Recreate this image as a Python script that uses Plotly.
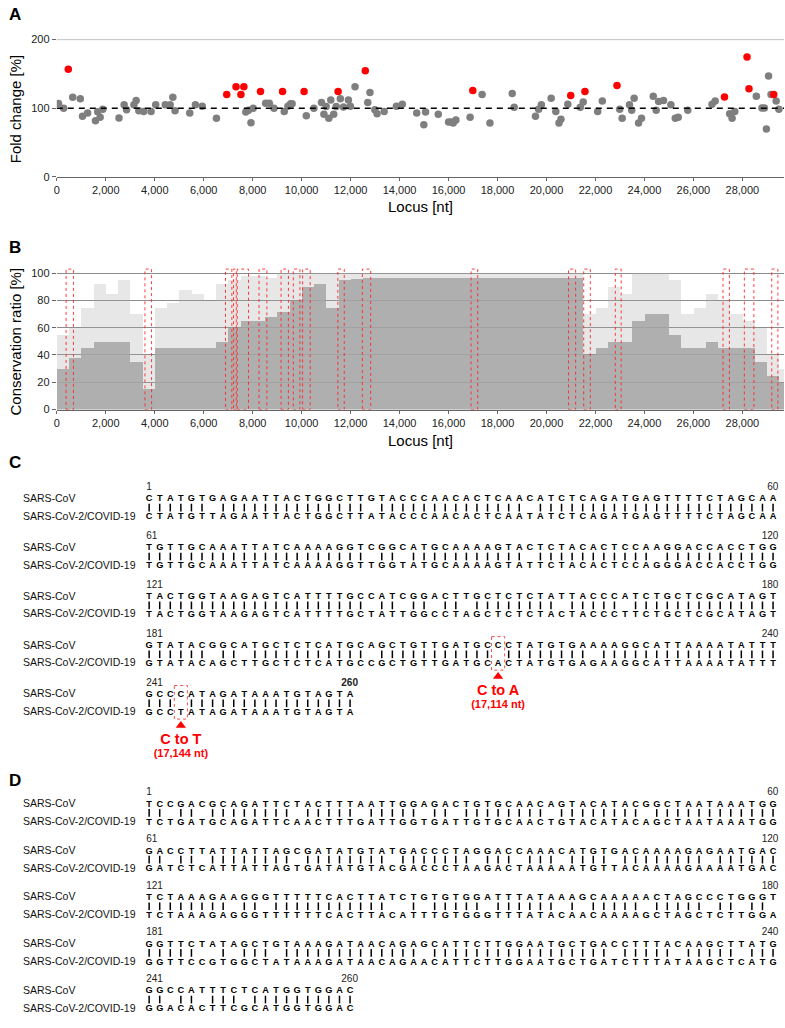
import plotly.graph_objects as go

W, H = 785, 1028
FONT = "Arial, 'Liberation Sans', sans-serif"

# ---------------- Panel A data (locus [nt], fold change [%]) ----------------
gray_locus = [70, 280, 650, 960, 1050, 1260, 1580, 1670, 1770, 1880, 2540, 2750, 2850, 3150, 3240,
              3350, 3550, 3850, 4040, 4430, 4630, 4740, 4830, 5430, 5660, 5940, 6520, 7720, 7830, 7930,
              8020, 8530, 8680, 8870, 9290, 9440, 9550, 9610, 10190, 10500, 10810, 10910, 11000, 11110,
              11190, 11310, 11410, 11580, 11710, 11910, 11990, 12180, 12700, 12790, 12990, 13080, 13370,
              13870, 14110, 14700, 15060, 14990, 15580, 16000, 16100, 16190, 16300, 16880, 17370, 17690,
              18600, 18680, 19550, 19680, 19790, 20190, 20380, 20510, 20590, 20870, 21380, 21500, 22090,
              22280, 22990, 23090, 23390, 23480, 23580, 23760, 23880, 24360, 24480, 24580, 24780, 25080,
              25260, 25380, 25770, 26760, 26890, 27480, 27580, 27690, 28570, 28800, 28900, 28980, 29070,
              29170, 29380, 29490]
gray_fold = [107, 100, 116, 114, 88.5, 93, 82, 95, 87, 98.5, 86, 105, 98, 105, 111.5,
             96.5, 95.5, 95.5, 105, 105, 105, 116, 96.5, 93, 105, 103, 85.5, 94.5, 97, 79,
             100, 107.5, 107.5, 100, 95.5, 103, 106.5, 106.5, 89, 100, 108.5, 91.5, 102.5, 85.5,
             112, 91.5, 102.5, 114, 102, 112, 103, 131.5, 108.5, 123, 98, 92, 95.5,
             103, 106, 93, 94.5, 76, 91.5, 80, 80, 78.5, 83, 87, 120, 78.5,
             121.5, 101.5, 88.5, 98.5, 105, 114.5, 95.5, 78.5, 84, 106, 101.5, 109, 95.5,
             110.5, 98.5, 85.5, 105, 97, 114.5, 78.5, 85.5, 117.5, 97, 110, 111.5, 105,
             85.5, 87, 97, 106, 110.5, 92, 85.5, 95.5, 117.5, 100.5, 100.5, 70, 147,
             120, 110.5, 98.5]
red_locus = [470, 6940, 7320, 7520, 7640, 8320, 9220, 10100, 11490, 12600, 16990, 20990, 21570,
             22880, 27270, 28190, 28270, 29280]
red_fold = [157, 120, 131.5, 120, 131.5, 124.5, 124.5, 124.5, 124.5, 154.5, 126, 118.5, 124.5,
            133, 116.5, 174.5, 128.5, 120]

# ---------------- Panel B data (conservation ratio, per 500-nt window) ----------------
bin_size = 500
cons_peak = [55, 60, 75, 92, 85, 95, 70, 40, 75, 78, 88, 85, 80, 92, 95, 98, 98, 97, 100, 100,
             100, 100, 100, 100, 100, 100, 100, 100, 100, 100, 100, 100, 100, 100, 100, 100, 100,
             100, 100, 100, 100, 100, 100,
             70, 75, 90, 85, 100, 100, 100, 95, 70, 75, 85, 80, 70, 65, 60, 40, 30]
cons_core = [30, 38, 45, 50, 50, 50, 35, 15, 45, 45, 45, 45, 45, 50, 60, 65, 65, 68, 72, 80,
             90, 92, 75, 95, 96, 97, 97, 97, 97, 97, 97, 97, 97, 97, 97, 97, 97,
             97, 97, 97, 97, 97, 97,
             40, 45, 50, 50, 65, 70, 70, 55, 45, 45, 50, 45, 45, 45, 35, 25, 20]
box_start = [380, 3600, 6890, 7220, 7370, 8260, 9160, 9660, 10040, 11480, 12480, 16920, 20900,
             21520, 22810, 27210, 28080, 29200]
box_end = [680, 3870, 7150, 7330, 7830, 8580, 9460, 9930, 10350, 11740, 12820, 17190, 21190,
           21790, 23050, 27470, 28470, 29450]

# ---------------- Panels C / D (alignments) ----------------
seq_names = ["SARS-CoV", "SARS-CoV-2/COVID-19"]
c_sars = ["CTATGTGAGAATTACTGGCTTGTACCCAACACTCAACATCTCAGATGAGTTTTCTAGCAA",
          "TGTTGCAAATTATCAAAAGGTCGGCATGCAAAAGTACTCTACACTCCAAGGACCACCTGG",
          "TACTGGTAAGAGTCATTTTGCCATCGGACTTGCTCTCTATTACCCATCTGCTCGCATAGT",
          "GTATACGGCATGCTCTCATGCAGCTGTTGATGCCCTATGTGAAAAGGCATTAAAATATTT",
          "GCCCATAGATAAATGTAGTA"]
c_cov2 = ["CTATGTTAGAATTACTGGCTTATACCCAACACTCAATATCTCAGATGAGTTTTCTAGCAA",
          "TGTTGCAAATTATCAAAAGGTTGGTATGCAAAAGTATTCTACACTCCAGGGACCACCTGG",
          "TACTGGTAAGAGTCATTTTGCTATTGGCCTAGCTCTCTACTACCCTTCTGCTCGCATAGT",
          "GTATACAGCTTGCTCTCATGCCGCTGTTGATGCACTATGTGAGAAGGCATTAAAATATTT",
          "GCCTATAGATAAATGTAGTA"]
d_sars = ["TCCGACGCAGATTCTACTTTAATTGGAGACTGTGCAACAGTACATACGGCTAATAAATGG",
          "GACCTTATTATTAGCGATATGTATGACCCTAGGACCAAACATGTGACAAAAGAGAATGAC",
          "TCTAAAGAAGGGTTTTTCACTTATCTGTGTGGATTTATAAAGCAAAAACTAGCCCTGGGT",
          "GGTTCTATAGCTGTAAAGATAACAGAGCATTCTTGGAATGCTGACCTTTACAAGCTTATG",
          "GGCCATTTCTCATGGTGGAC"]
d_cov2 = ["TCTGATGCAGATTCAACTTTGATTGGTGATTGTGCAACTGTACATACAGCTAATAAATGG",
          "GATCTCATTATTAGTGATATGTACGACCCTAAGACTAAAAATGTTACAAAAGAAAATGAC",
          "TCTAAAGAGGGTTTTTTCACTTACATTTGTGGGTTTATACAACAAAAGCTAGCTCTTGGA",
          "GGTTCCGTGGCTATAAAGATAACAGAACATTCTTGGAATGCTGATCTTTATAAGCTCATG",
          "GGACACTTCGCATGGTGGAC"]
row_len = 60
total_len = 260
# mutations: (panel, row, column, label, locus label)
mutations = [("C", 3, 34, "C to A", "(17,114 nt)"),
             ("C", 4, 4, "C to T", "(17,144 nt)")]

# ---------------- geometry helpers ----------------
XMAX = 29700
x_dom = [54 / W, 784 / W]


def ydom(top_px, bottom_px):
    return [1 - bottom_px / H, 1 - top_px / H]


def py(px):
    return 1 - px / H


LETTER0 = 146.7
LETTER_STEP = (773 - 146.7) / 59


def px2idx(px):
    return 1 + (px - LETTER0) / LETTER_STEP


fig = go.Figure()

# Panel A
fig.add_trace(go.Scatter(x=gray_locus, y=gray_fold, mode="markers",
                         marker=dict(color="#7f7f7f", size=7.5), xaxis="x", yaxis="y",
                         hoverinfo="x+y"))
fig.add_trace(go.Scatter(x=red_locus, y=red_fold, mode="markers",
                         marker=dict(color="#ff0000", size=7.5), xaxis="x", yaxis="y",
                         hoverinfo="x+y"))

# Panel B
centers = [i * bin_size + bin_size / 2 for i in range(len(cons_peak))]
fig.add_trace(go.Bar(x=centers, y=cons_peak, width=bin_size, xaxis="x2", yaxis="y2",
                     marker=dict(color="rgba(170,170,170,0.28)", line=dict(width=0))))
fig.add_trace(go.Bar(x=centers, y=cons_core, width=bin_size, xaxis="x2", yaxis="y2",
                     marker=dict(color="rgba(165,165,165,0.85)", line=dict(width=0))))

shapes = []
# A: top gridline at 200 and dashed 100 % line
shapes.append(dict(type="line", xref="x domain", yref="y", x0=0, x1=1, y0=200, y1=200,
                   line=dict(color="#8c8c8c", width=1)))
shapes.append(dict(type="line", xref="x domain", yref="y", x0=0, x1=1, y0=100, y1=100,
                   line=dict(color="#000000", width=1.6, dash="6px,5px")))
# B: red dotted boxes
for s, e in zip(box_start, box_end):
    shapes.append(dict(type="rect", xref="x2", yref="y2", x0=s, x1=e, y0=0, y1=103,
                       line=dict(color="rgba(255,40,40,0.9)", width=1, dash="dot")))

# C / D alignments
panels = {"C": dict(top=499, step=49.5, sars=c_sars, cov=c_cov2, bold_end=True),
          "D": dict(top=808, step=47.2, sars=d_sars, cov=d_cov2, bold_end=False)}
GAP = 18
for name, p in panels.items():
    sx, sy, st, cx, cy, ct, mx, my = [], [], [], [], [], [], [], []
    lx, ly, lt = [], [], []
    nlx, nly, nlt = [], [], []
    nrx, nry, nrt = [], [], []
    bold_x, bold_y, bold_t = [], [], []
    for r, (a, b) in enumerate(zip(p["sars"], p["cov"])):
        y0 = p["top"] + r * p["step"]
        for k, (ca, cb) in enumerate(zip(a, b), start=1):
            sx.append(k); sy.append(y0); st.append(ca)
            cx.append(k); cy.append(y0 + GAP); ct.append(cb)
            if ca == cb:
                mx.append(k); my.append(y0 + GAP / 2 - 0.5)
        lx += [px2idx(20), px2idx(20)]
        ly += [y0, y0 + GAP]
        lt += seq_names
        nlx.append(0.72); nly.append(y0 - 12); nlt.append(str(r * row_len + 1))
        end = min((r + 1) * row_len, total_len)
        if end == total_len and p["bold_end"]:
            bold_x.append(len(a) + 0.75); bold_y.append(y0 - 12); bold_t.append("<b>%d</b>" % end)
        else:
            nrx.append(len(a) + 0.5 if len(a) == row_len else len(a) + 0.75)
            nry.append(y0 - 12); nrt.append(str(end))
    letter_font = dict(family=FONT, size=9.2, color="#000")
    fig.add_trace(go.Scatter(x=sx, y=sy, text=["<b>%s</b>" % t for t in st], mode="text",
                             textfont=letter_font, xaxis="x3", yaxis="y3", hoverinfo="skip"))
    fig.add_trace(go.Scatter(x=cx, y=cy, text=["<b>%s</b>" % t for t in ct], mode="text",
                             textfont=letter_font, xaxis="x3", yaxis="y3", hoverinfo="skip"))
    fig.add_trace(go.Scatter(x=mx, y=my, mode="markers", xaxis="x3", yaxis="y3",
                             marker=dict(symbol="line-ns", size=5.5,
                                         line=dict(color="#000", width=1.5)),
                             hoverinfo="skip"))
    fig.add_trace(go.Scatter(x=lx, y=ly, text=lt, mode="text", textposition="middle right",
                             textfont=dict(family=FONT, size=10.5, color="#111"),
                             xaxis="x3", yaxis="y3", hoverinfo="skip"))
    fig.add_trace(go.Scatter(x=nlx, y=nly, text=nlt, mode="text", textposition="middle right",
                             textfont=dict(family=FONT, size=10, color="#222"),
                             xaxis="x3", yaxis="y3", hoverinfo="skip"))
    fig.add_trace(go.Scatter(x=nrx + bold_x, y=nry + bold_y, text=nrt + bold_t, mode="text",
                             textposition="middle left",
                             textfont=dict(family=FONT, size=10, color="#222"),
                             xaxis="x3", yaxis="y3", hoverinfo="skip"))

# mutation highlights
tx, ty, tt, sxx, syy, stt, trx, tr_y = [], [], [], [], [], [], [], []
for pan, r, col, lab, loc in mutations:
    p = panels[pan]
    y0 = p["top"] + r * p["step"]
    shapes.append(dict(type="rect", xref="x3", yref="y3", x0=col - 0.62, x1=col + 0.62,
                       y0=y0 - 9.5, y1=y0 + GAP + 6.5,
                       line=dict(color="rgba(240,60,60,0.9)", width=1, dash="dot")))
    trx.append(col); tr_y.append(y0 + GAP + 13)
    tx.append(col); ty.append(y0 + GAP + 28); tt.append("<b>%s</b>" % lab)
    sxx.append(col); syy.append(y0 + GAP + 42); stt.append("<b>%s</b>" % loc)
fig.add_trace(go.Scatter(x=trx, y=tr_y, mode="markers", xaxis="x3", yaxis="y3",
                         marker=dict(symbol="triangle-up", size=9, color="#ff0000"),
                         hoverinfo="skip"))
fig.add_trace(go.Scatter(x=tx, y=ty, text=tt, mode="text", xaxis="x3", yaxis="y3",
                         textfont=dict(family=FONT, size=14.5, color="#ff0000"), hoverinfo="skip"))
fig.add_trace(go.Scatter(x=sxx, y=syy, text=stt, mode="text", xaxis="x3", yaxis="y3",
                         textfont=dict(family=FONT, size=11, color="#ff0000"), hoverinfo="skip"))

tick_font = dict(family=FONT, size=11, color="#222")
xticks = list(range(0, 29000, 2000))
common_x = dict(range=[0, XMAX], tickvals=xticks, tickformat=",d", showline=True,
                linecolor="#666", linewidth=1, ticks="outside", ticklen=3, tickcolor="#666",
                showgrid=False, zeroline=False, tickfont=tick_font, fixedrange=True)

annotations = []
for letter, ypx in [("A", 9), ("B", 244), ("C", 462), ("D", 784)]:
    annotations.append(dict(text="<b>%s</b>" % letter, x=4 / W, y=py(ypx), xref="paper", yref="paper",
                            xanchor="left", yanchor="middle", showarrow=False,
                            font=dict(family=FONT, size=17, color="#000")))
for txt, ypx in [("Locus [nt]", 203), ("Locus [nt]", 440)]:
    annotations.append(dict(text=txt, x=(54 + 784) / 2 / W, y=py(ypx), xref="paper", yref="paper",
                            xanchor="center", yanchor="middle", showarrow=False,
                            font=dict(family=FONT, size=15, color="#000")))
for txt, ypx in [("Fold change [%]", 104), ("Conservation ratio [%]", 339)]:
    annotations.append(dict(text=txt, x=12.5 / W, y=py(ypx), xref="paper", yref="paper",
                            xanchor="center", yanchor="middle", showarrow=False, textangle=-90,
                            font=dict(family=FONT, size=15, color="#000")))

fig.update_layout(
    width=W, height=H, margin=dict(l=0, r=0, t=0, b=0),
    paper_bgcolor="white", plot_bgcolor="rgba(0,0,0,0)",
    showlegend=False, barmode="overlay", bargap=0,
    font=dict(family=FONT),
    xaxis=dict(domain=x_dom, anchor="y", **common_x),
    yaxis=dict(domain=ydom(34, 173), anchor="x", range=[0, 200], tickvals=[0, 100, 200],
               showgrid=False, zeroline=False, showline=False, ticks="outside", ticklen=4,
               tickcolor="#666", tickfont=tick_font, fixedrange=True),
    xaxis2=dict(domain=x_dom, anchor="y2", **common_x),
    yaxis2=dict(domain=ydom(264.8, 408.3), anchor="x2", range=[0, 104],
                tickvals=[0, 20, 40, 60, 80, 100], showgrid=True, gridcolor="#8c8c8c",
                gridwidth=1, zeroline=False, showline=False, ticks="outside", ticklen=4,
                tickcolor="#666", tickfont=tick_font, fixedrange=True),
    xaxis3=dict(domain=[0, 1], anchor="y3", range=[px2idx(0), px2idx(W)], visible=False,
                fixedrange=True),
    yaxis3=dict(domain=[0, 1], anchor="x3", range=[H, 0], visible=False, fixedrange=True),
    shapes=shapes, annotations=annotations,
)

fig.write_html("out.html", config={"displayModeBar": False},
               post_script="document.body.style.margin='0';document.body.style.overflow='hidden';")
